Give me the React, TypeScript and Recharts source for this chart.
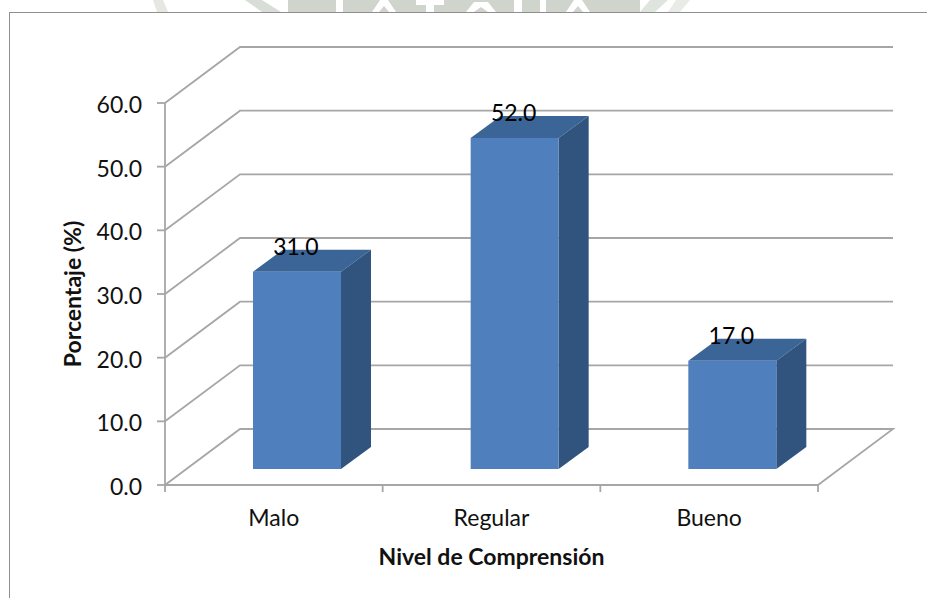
import { BarChart, Bar, XAxis, YAxis, CartesianGrid, LabelList } from "recharts";

const categories = ["Malo", "Regular", "Bueno"];
const percentages = [31.0, 52.0, 17.0];
const yTicks = [0, 10, 20, 30, 40, 50, 60];

const chartData = categories.map((name, i) => ({ name, value: percentages[i] }));

const FONT = "Lato, sans-serif";
const GRID_COLOR = "#a6a6a6";
const STROKE = 1.8;

// oblique projection of the back wall
const WALL_DX = 75;
const WALL_DY = -56;
// bars stand midway on the floor and have a shallow depth
const BAR_DX = 23;
const BAR_DY = -16;
const DEPTH_DX = 30;
const DEPTH_DY = -22;

const WallLine = (props: any) => {
  const { x1, x2, y1 } = props;
  const bx = x1 + WALL_DX;
  const by = y1 + WALL_DY;
  let d = `M${x1},${y1}L${bx},${by}L${x2 + WALL_DX},${by}`;
  // floor edge on the right side
  if (Math.abs(y1 - 485) < 2) {
    d += `L${x2},${y1}`;
  }
  return <path d={d} fill="none" stroke={GRID_COLOR} strokeWidth={STROKE} />;
};

const Box3D = (props: any) => {
  const { x, y, width, height } = props;
  const fx = x + BAR_DX;
  const fy = y + BAR_DY;
  const r = fx + width;
  const b = fy + height;
  return (
    <g>
      <path
        d={`M${fx},${fy}L${fx + DEPTH_DX},${fy + DEPTH_DY}L${r + DEPTH_DX},${fy + DEPTH_DY}L${r},${fy}Z`}
        fill="#3b6596"
      />
      <path
        d={`M${r},${fy}L${r + DEPTH_DX},${fy + DEPTH_DY}L${r + DEPTH_DX},${b + DEPTH_DY}L${r},${b}Z`}
        fill="#31547f"
      />
      <rect x={fx} y={fy} width={width} height={height} fill="#4f7fbc" />
    </g>
  );
};

const BarValue = (props: any) => {
  const { x, y, width, value } = props;
  return (
    <text
      x={x + width / 2 + BAR_DX - 1}
      y={y + BAR_DY - 17}
      textAnchor="middle"
      fontFamily={FONT}
      fontSize={23}
      fill="#000"
    >
      {Number(value).toFixed(1)}
    </text>
  );
};

const CategoryTick = (props: any) => {
  const { x, y, payload, index } = props;
  const half = payload.offset ?? 108.8;
  const axisY = y - 8;
  return (
    <g>
      <line x1={x - half} x2={x - half} y1={axisY} y2={axisY + 7} stroke={GRID_COLOR} strokeWidth={STROKE} />
      {index === categories.length - 1 && (
        <line x1={x + half} x2={x + half} y1={axisY} y2={axisY + 7} stroke={GRID_COLOR} strokeWidth={STROKE} />
      )}
      <text x={x} y={axisY + 41} textAnchor="middle" fontFamily={FONT} fontSize={23} fill="#111">
        {payload.value}
      </text>
    </g>
  );
};

const ValueTick = (props: any) => {
  const { x, y, payload } = props;
  return (
    <text x={x} y={y + 10} textAnchor="end" fontFamily={FONT} fontSize={23} fill="#111">
      {Number(payload.value).toFixed(1)}
    </text>
  );
};

// faint crest showing above the chart frame
const Crest = () => (
  <svg width={927} height={12} style={{ position: "absolute", left: 0, top: 0 }}>
    <polygon points="153,0 163,0 168,12 157,12" fill="#e4e7e2" />
    <polygon points="245,0 262,0 281,12 262,12" fill="#d9ddd7" />
    <rect x={288} y={0} width={352} height={12} fill="#cfd4cc" />
    <polygon points="336,0 343,0 343,12 336,12" fill="#fff" />
    <polygon points="372,12 380,0 388,0 396,12 389,12 384,6 379,12" fill="#fff" />
    <polygon points="416,0 444,0 444,5 434,5 434,12 426,12 426,5 416,5" fill="#fff" />
    <polygon points="466,12 474,2 488,2 496,12 488,12 481,7 474,12" fill="#fff" />
    <polygon points="514,0 522,0 522,12 514,12" fill="#fff" />
    <polygon points="540,0 546,0 546,12 540,12" fill="#fff" />
    <polygon points="566,12 574,0 582,0 590,12 583,12 578,6 573,12" fill="#fff" />
    <polygon points="650,0 668,0 655,12 640,12" fill="#e0e4de" />
    <polygon points="676,0 690,0 680,12 668,12" fill="#e8ebe6" />
  </svg>
);

const App = () => {
  return (
    <div style={{ position: "absolute", left: 0, top: 0, width: 927, height: 598, background: "#fff", overflow: "hidden" }}>
      <Crest />
      <div
        style={{
          position: "absolute",
          left: 9,
          top: 12,
          width: 930,
          height: 600,
          border: "1.5px solid #8f8f8f",
          boxSizing: "border-box",
        }}
      />
      <BarChart
        width={927}
        height={598}
        data={chartData}
        margin={{ top: 103, right: 109, bottom: 53, left: 85 }}
        style={{ position: "absolute", left: 0, top: 0 }}
      >
        <CartesianGrid horizontal={(p: any) => <WallLine {...p} key={p.key} />} vertical={false} />
        <XAxis
          dataKey="name"
          height={60}
          axisLine={{ stroke: GRID_COLOR, strokeWidth: STROKE }}
          tickLine={false}
          tick={<CategoryTick />}
          interval={0}
          label={{
            value: "Nivel de Comprensión",
            position: "insideBottom",
            offset: -20,
            style: { fontFamily: FONT, fontSize: 23, fontWeight: 700, fill: "#111" },
          }}
        />
        <YAxis
          width={80}
          domain={[0, 60]}
          ticks={yTicks}
          interval={0}
          axisLine={{ stroke: GRID_COLOR, strokeWidth: STROKE }}
          tickLine={{ stroke: GRID_COLOR, strokeWidth: STROKE }}
          tickSize={8}
          tickMargin={15}
          tick={<ValueTick />}
          label={{
            value: "Porcentaje (%)",
            angle: -90,
            position: "insideLeft",
            offset: -12,
            style: { fontFamily: FONT, fontSize: 23, fontWeight: 700, fill: "#111", textAnchor: "middle" },
          }}
        />
        <Bar dataKey="value" barSize={88} shape={<Box3D />} isAnimationActive={false}>
          <LabelList dataKey="value" content={<BarValue />} />
        </Bar>
      </BarChart>
    </div>
  );
};

export default App;
